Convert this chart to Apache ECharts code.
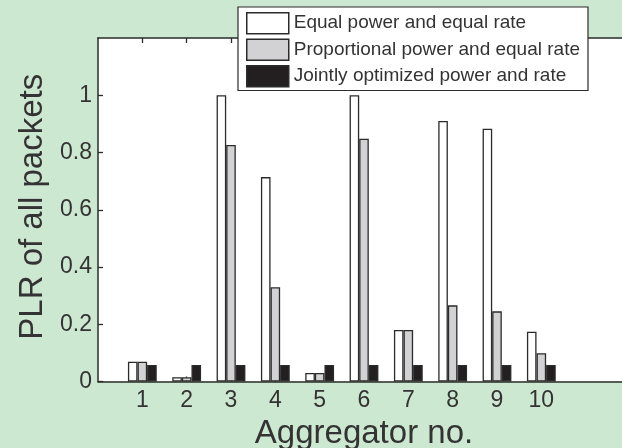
<!DOCTYPE html>
<html>
<head>
<meta charset="utf-8">
<script src="https://cdn.jsdelivr.net/npm/echarts@6/dist/echarts.min.js"></script>
<style>
  html, body { margin: 0; padding: 0; background: #cde8d1; }
  #chart { width: 622px; height: 448px; }
</style>
</head>
<body>
<div id="chart"></div>
<script>
// Aggregator indices and packet loss ratio per scheme
const aggregators = [1, 2, 3, 4, 5, 6, 7, 8, 9, 10];
const equalPowerEqualRate = [0.069, 0.015, 1.0, 0.714, 0.03, 1.0, 0.18, 0.91, 0.883, 0.174];
const proportionalPowerEqualRate = [0.069, 0.015, 0.826, 0.329, 0.03, 0.848, 0.18, 0.266, 0.245, 0.099];
const jointlyOptimized = [0.058, 0.058, 0.058, 0.058, 0.058, 0.058, 0.058, 0.058, 0.058, 0.058];
const yTicks = [0, 0.2, 0.4, 0.6, 0.8, 1];

const seriesNames = [
  'Equal power and equal rate',
  'Proportional power and equal rate',
  'Jointly optimized power and rate'
];

const FONT = '"Liberation Sans", Arial, sans-serif';
const INK = '#2b2b2b';
const TEXT = '#333333';

function pairs(values) {
  return aggregators.map((a, i) => [a, values[i]]);
}

function barSeries(name, values, fill) {
  return {
    name: name,
    type: 'bar',
    data: pairs(values),
    barWidth: 9.6,
    barGap: '0%',
    itemStyle: { color: fill, borderColor: INK, borderWidth: 1.3 }
  };
}

const chart = echarts.init(document.getElementById('chart'), null, { renderer: 'canvas' });

chart.setOption({
  backgroundColor: '#cde8d1',
  animation: false,
  textStyle: { fontFamily: FONT },
  grid: {
    left: 98, top: 38, width: 532, height: 343.5,
    containLabel: false,
    outerBoundsMode: 'none',
    show: true, backgroundColor: '#ffffff', borderWidth: 0
  },
  legend: {
    orient: 'vertical',
    left: 238,
    top: 7,
    padding: [5, 8, 3, 8],
    itemGap: 4,
    itemWidth: 42,
    itemHeight: 21,
    backgroundColor: '#ffffff',
    borderColor: INK,
    borderWidth: 1.2,
    borderRadius: 0,
    icon: 'rect',
    itemStyle: { borderWidth: 1.5 },
    textStyle: { fontFamily: FONT, fontSize: 19, color: TEXT },
    data: seriesNames
  },
  xAxis: [
    {
      type: 'value',
      min: 0,
      max: 12,
      interval: 1,
      position: 'bottom',
      name: 'Aggregator no.',
      nameLocation: 'middle',
      nameGap: 33,
      nameTextStyle: { fontFamily: FONT, fontSize: 33, color: TEXT },
      axisLine: { show: true, lineStyle: { color: INK, width: 1.5 } },
      axisTick: { show: true, inside: true, length: 5, customValues: aggregators, lineStyle: { color: INK, width: 1.3 } },
      axisLabel: { customValues: aggregators, fontFamily: FONT, fontSize: 23, color: TEXT, margin: 8 },
      splitLine: { show: false }
    },
    {
      type: 'value',
      min: 0,
      max: 12,
      interval: 1,
      position: 'top',
      axisLine: { show: true, lineStyle: { color: INK, width: 1.5 } },
      axisTick: { show: true, inside: true, length: 5, customValues: aggregators, lineStyle: { color: INK, width: 1.3 } },
      axisLabel: { show: false },
      splitLine: { show: false }
    }
  ],
  yAxis: {
    type: 'value',
    min: 0,
    max: 1.2,
    interval: 0.2,
    name: 'PLR of all packets',
    nameLocation: 'middle',
    nameGap: 46,
    nameTextStyle: { fontFamily: FONT, fontSize: 33, color: TEXT, padding: [0, 0, 0, 6] },
    axisLine: { show: true, lineStyle: { color: INK, width: 1.5 } },
    axisTick: { show: true, inside: true, length: 5, customValues: yTicks, lineStyle: { color: INK, width: 1.3 } },
    axisLabel: { customValues: yTicks, fontFamily: FONT, fontSize: 23, color: TEXT, margin: 6 },
    splitLine: { show: false }
  },
  series: [
    barSeries(seriesNames[0], equalPowerEqualRate, '#ffffff'),
    barSeries(seriesNames[1], proportionalPowerEqualRate, '#d2d2d4'),
    barSeries(seriesNames[2], jointlyOptimized, '#231f20')
  ]
});
</script>
</body>
</html>
